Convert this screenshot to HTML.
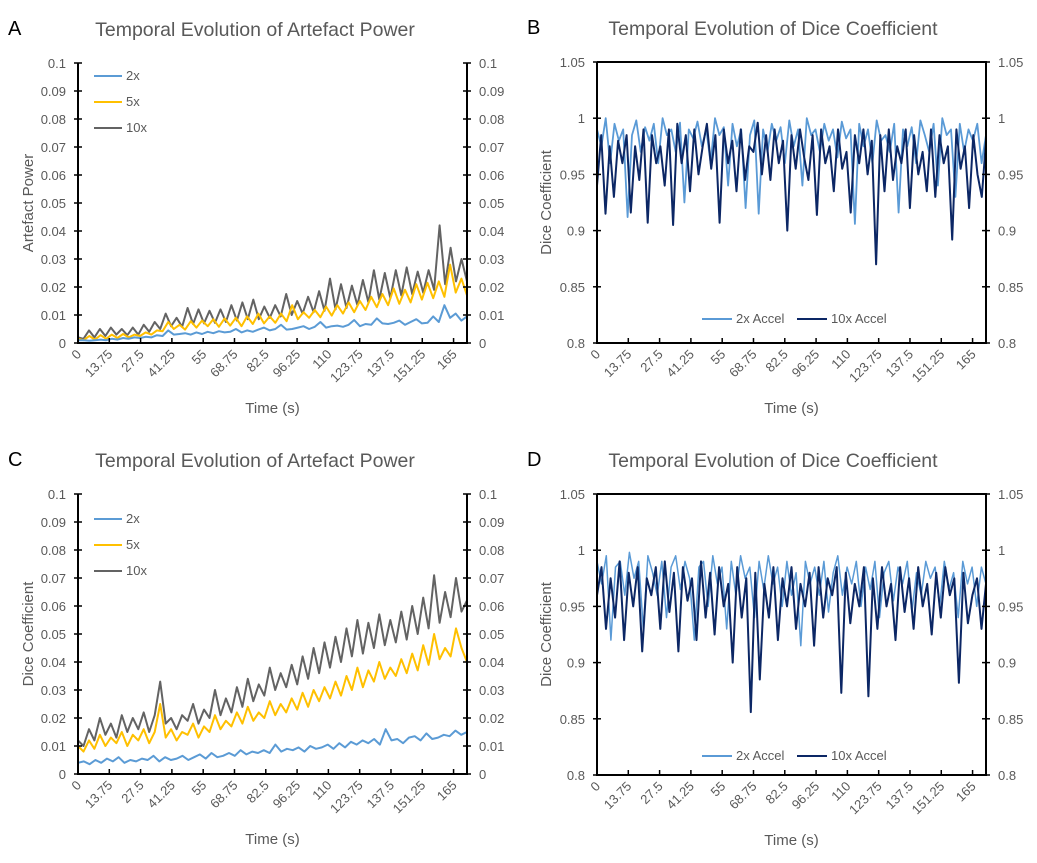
<!DOCTYPE html>
<html><head><meta charset="utf-8"><style>
html,body{margin:0;padding:0;background:#fff;width:1037px;height:863px;overflow:hidden}
svg{display:block;font-family:"Liberation Sans",sans-serif}
</style></head><body>
<svg id="chart" width="1037" height="863" viewBox="0 0 1037 863" xmlns="http://www.w3.org/2000/svg"></svg>
<script>
const xTicks=[0,13.75,27.5,41.25,55,68.75,82.5,96.25,110,123.75,137.5,151.25,165];
const xMax=170.9;
const a2x=[0.001,0.001,0.0008,0.001,0.0012,0.001,0.0015,0.0012,0.0018,0.0015,0.002,0.0018,0.0022,0.002,0.0028,0.0025,0.0045,0.003,0.0032,0.0035,0.003,0.0038,0.0032,0.004,0.0035,0.0042,0.0038,0.004,0.005,0.0038,0.0045,0.004,0.0048,0.0055,0.0045,0.005,0.0065,0.0048,0.005,0.0055,0.006,0.005,0.0058,0.0075,0.0055,0.006,0.0062,0.0058,0.0065,0.0082,0.006,0.0068,0.0065,0.0088,0.007,0.0068,0.0072,0.008,0.0065,0.0075,0.0085,0.007,0.0072,0.0095,0.0075,0.0135,0.009,0.0105,0.008,0.0095];
const a5x=[0.0015,0.001,0.0025,0.0012,0.0028,0.0015,0.003,0.0018,0.0032,0.002,0.003,0.0025,0.0038,0.003,0.0045,0.0042,0.0075,0.005,0.0065,0.0048,0.0078,0.0055,0.008,0.006,0.0085,0.0058,0.0088,0.0062,0.009,0.006,0.0095,0.0068,0.0105,0.007,0.0095,0.0072,0.0105,0.0078,0.0135,0.0085,0.011,0.009,0.0118,0.0092,0.013,0.0098,0.0135,0.0105,0.0145,0.011,0.015,0.0118,0.0165,0.0128,0.0175,0.0135,0.0195,0.014,0.019,0.0145,0.021,0.0155,0.0215,0.016,0.022,0.0165,0.028,0.018,0.023,0.017];
const a10x=[0.002,0.0015,0.0045,0.002,0.005,0.0025,0.0055,0.003,0.005,0.0028,0.0055,0.003,0.0065,0.004,0.0075,0.005,0.0105,0.006,0.009,0.0058,0.0125,0.0068,0.012,0.007,0.0115,0.0072,0.012,0.0075,0.0135,0.008,0.0145,0.0085,0.0155,0.0085,0.013,0.009,0.0135,0.0095,0.0175,0.01,0.015,0.0105,0.0165,0.011,0.0185,0.0115,0.023,0.012,0.021,0.0125,0.0205,0.0135,0.0225,0.0145,0.026,0.0155,0.025,0.016,0.026,0.017,0.027,0.0175,0.0255,0.018,0.026,0.019,0.042,0.021,0.034,0.022,0.03,0.022];
const c2x=[0.004,0.0045,0.0035,0.005,0.004,0.0055,0.0045,0.006,0.004,0.005,0.0045,0.0055,0.005,0.0065,0.0045,0.006,0.005,0.0055,0.0065,0.005,0.006,0.007,0.0055,0.0075,0.006,0.0065,0.0075,0.0065,0.0085,0.007,0.008,0.0075,0.0085,0.0075,0.0105,0.008,0.009,0.0085,0.0095,0.008,0.01,0.009,0.0095,0.0105,0.009,0.011,0.0095,0.0115,0.0105,0.012,0.011,0.0125,0.0105,0.016,0.012,0.0125,0.011,0.013,0.0135,0.012,0.0145,0.0125,0.013,0.014,0.0135,0.0155,0.014,0.015];
const c5x=[0.01,0.008,0.012,0.009,0.014,0.01,0.013,0.011,0.015,0.01,0.014,0.012,0.016,0.011,0.015,0.025,0.013,0.016,0.012,0.015,0.014,0.018,0.013,0.017,0.015,0.021,0.016,0.019,0.017,0.022,0.018,0.024,0.019,0.022,0.02,0.026,0.021,0.025,0.022,0.027,0.023,0.029,0.024,0.03,0.026,0.031,0.027,0.033,0.028,0.035,0.03,0.038,0.031,0.037,0.033,0.04,0.034,0.038,0.035,0.041,0.036,0.043,0.037,0.046,0.039,0.05,0.041,0.045,0.042,0.052,0.045,0.04];
const c10x=[0.012,0.01,0.016,0.012,0.02,0.014,0.018,0.013,0.021,0.015,0.02,0.016,0.022,0.015,0.021,0.033,0.018,0.02,0.016,0.021,0.019,0.025,0.018,0.023,0.02,0.03,0.021,0.027,0.022,0.031,0.024,0.034,0.026,0.032,0.028,0.038,0.03,0.036,0.031,0.039,0.032,0.042,0.034,0.045,0.036,0.047,0.038,0.049,0.04,0.052,0.042,0.055,0.043,0.054,0.045,0.057,0.046,0.055,0.047,0.058,0.048,0.06,0.05,0.063,0.052,0.071,0.054,0.065,0.056,0.07,0.058,0.062];
const b2x=[0.99,0.975,1.0,0.96,0.995,0.98,0.99,0.912,0.985,0.998,0.97,0.992,0.98,0.995,0.96,1.0,0.985,0.99,0.97,0.996,0.925,0.99,0.982,0.997,0.975,0.99,0.96,1.0,0.985,0.992,0.94,0.995,0.975,0.99,0.92,0.985,0.998,0.915,0.99,0.97,0.995,0.98,0.992,0.96,0.998,0.975,0.99,0.94,1.0,0.985,0.99,0.97,0.995,0.98,0.99,0.965,0.997,0.982,0.99,0.906,0.995,0.975,0.99,0.96,0.998,0.98,0.985,0.97,0.995,0.916,0.99,0.975,0.992,0.96,0.998,0.985,0.97,0.995,0.94,1.0,0.985,0.99,0.93,0.995,0.97,0.99,0.98,0.995,0.96,0.985];
const b10x=[0.94,0.985,0.915,0.975,0.93,0.98,0.96,0.985,0.916,0.975,0.945,0.99,0.907,0.985,0.96,0.975,0.94,0.99,0.905,0.995,0.96,0.985,0.935,0.99,0.95,0.975,0.995,0.955,0.985,0.907,0.99,0.96,0.98,0.935,0.99,0.945,0.975,0.97,0.996,0.95,0.985,0.945,0.99,0.96,0.98,0.9,0.985,0.955,0.99,0.965,0.945,0.985,0.914,0.99,0.96,0.975,0.935,0.99,0.955,0.97,0.916,0.985,0.96,0.99,0.95,0.98,0.87,0.985,0.935,0.99,0.945,0.975,0.96,0.99,0.92,0.985,0.95,0.97,0.935,0.99,0.93,0.985,0.96,0.975,0.892,0.99,0.955,0.975,0.92,0.985,0.95,0.93,0.98];
const d2x=[0.99,0.97,0.995,0.92,0.985,0.99,0.96,0.998,0.975,0.99,0.93,0.995,0.98,0.96,0.99,0.94,0.985,0.995,0.965,0.99,0.975,0.92,0.985,0.99,0.95,0.995,0.97,0.985,0.93,0.99,0.96,0.995,0.975,0.985,0.94,0.99,0.965,0.995,0.97,0.985,0.95,0.99,0.96,0.98,0.915,0.99,0.97,0.985,0.96,0.99,0.945,0.98,0.995,0.96,0.985,0.97,0.99,0.95,0.985,0.965,0.99,0.94,0.98,0.99,0.955,0.985,0.97,0.99,0.945,0.98,0.96,0.99,0.975,0.985,0.95,0.99,0.965,0.98,0.94,0.99,0.97,0.985,0.95,0.985,0.97];
const d10x=[0.96,0.985,0.93,0.975,0.94,0.99,0.92,0.98,0.95,0.985,0.91,0.975,0.96,0.985,0.93,0.99,0.945,0.98,0.91,0.985,0.955,0.975,0.92,0.99,0.94,0.98,0.925,0.985,0.95,0.97,0.9,0.985,0.94,0.975,0.856,0.98,0.885,0.97,0.94,0.985,0.92,0.975,0.95,0.985,0.93,0.97,0.95,0.98,0.915,0.985,0.94,0.975,0.96,0.985,0.873,0.98,0.935,0.97,0.95,0.985,0.87,0.975,0.93,0.985,0.95,0.97,0.92,0.985,0.945,0.975,0.93,0.985,0.95,0.97,0.925,0.98,0.94,0.985,0.96,0.975,0.882,0.98,0.935,0.96,0.975,0.93,0.97];
const powerTicks=[0,0.01,0.02,0.03,0.04,0.05,0.06,0.07,0.08,0.09,0.1];
const diceTicks=[0.8,0.85,0.9,0.95,1,1.05];

const NS='http://www.w3.org/2000/svg';
const svg=document.getElementById('chart');
function mk(tag,attrs,parent,text){const e=document.createElementNS(NS,tag);for(const k in attrs)e.setAttribute(k,attrs[k]);if(text!==undefined)e.textContent=text;(parent||svg).appendChild(e);return e;}
const GREY='#595959';

function panel(p){
  const g=mk('g',{});
  
  
  const ymin=p.ticks[0],ymax=p.ticks[p.ticks.length-1];
  const X=v=>p.L+(v/xMax)*(p.R-p.L);
  const Y=v=>p.B-(v-ymin)/(ymax-ymin)*(p.B-p.T);
  const letter=mk('text',{x:p.letterX,y:p.T-28,'font-size':20,fill:'#000'},g,p.id);
  
  
  const title=mk('text',{x:p.titleX,y:p.T-27,'font-size':19.5,fill:GREY,'text-anchor':'middle'},g,p.title);
  
  
  p.series.forEach(s=>{
    const n=s.data.length;
    const pts=s.data.map((v,i)=>X(i*xMax/(n-1)).toFixed(1)+','+Y(v).toFixed(1)).join(' ');
    const pl=mk('polyline',{points:pts,fill:'none',stroke:s.color,'stroke-width':s.w||2,'stroke-linejoin':'round'},g);
    
    
  });
  const ax=mk('path',{d:`M${p.L},${p.T} V${p.B} H${p.R} V${p.T}`+(p.box?` H${p.L}`:''),fill:'none',stroke:'#000','stroke-width':2},g);
  
  
  p.ticks.forEach(t=>{
    const y=Y(t);
    mk('line',{x1:p.L-4,x2:p.L+4,y1:y,y2:y,stroke:'#000','stroke-width':1.5},g);
    mk('line',{x1:p.R-4,x2:p.R+4,y1:y,y2:y,stroke:'#000','stroke-width':1.5},g);
    const lt=mk('text',{x:p.L-12,y:y+5,'font-size':13,fill:GREY,'text-anchor':'end'},g,String(t));
    
    
    const rt=mk('text',{x:p.R+12,y:y+5,'font-size':13,fill:GREY},g,String(t));
    
    
  });
  xTicks.forEach(t=>{
    const x=X(t);
    mk('line',{x1:x,x2:x,y1:p.B,y2:p.B-5,stroke:'#000','stroke-width':1.5},g);
    const xt=mk('text',{x:x+4,y:p.B+12,'font-size':13,fill:GREY,'text-anchor':'end',transform:`rotate(-45 ${x+4} ${p.B+12})`},g,String(t));
    
    
  });
  const xtl=mk('text',{x:(p.L+p.R)/2,y:p.B+70,'font-size':15,fill:GREY,'text-anchor':'middle'},g,'Time (s)');
  
  
  const cy=(p.T+p.B)/2;
  const ytl=mk('text',{x:p.ytX,y:cy,'font-size':15,fill:GREY,'text-anchor':'middle',transform:`rotate(-90 ${p.ytX} ${cy})`},g,p.ytitle);
  
  
  p.legend.forEach(l=>{
    const lg=mk('g',{},g);
    
    
    mk('line',{x1:l.x,x2:l.x+l.len,y1:l.y,y2:l.y,stroke:l.color,'stroke-width':2},lg);
    mk('text',{x:l.x+l.len+4,y:l.y+4,'font-size':13,fill:GREY},lg,l.label);
  });
}
const C2='#5b9bd5',C5='#ffc000',C10='#636363',NAVY='#0c2765',LB='#5a9ad6';
panel({id:'A',L:78,R:467,T:63,B:343,ticks:powerTicks,box:false,letterX:8,ytX:33,titleX:255,title:'Temporal Evolution of Artefact Power',ytitle:'Artefact Power',
  series:[{name:'10x',data:a10x,color:C10},{name:'5x',data:a5x,color:C5},{name:'2x',data:a2x,color:C2}],
  legend:[{x:94,y:76,len:28,color:C2,label:'2x'},{x:94,y:102,len:28,color:C5,label:'5x'},{x:94,y:128,len:28,color:C10,label:'10x'}]});
panel({id:'B',L:597,R:986,T:62,B:343,ticks:diceTicks,box:true,letterX:527,ytX:551,titleX:773,title:'Temporal Evolution of Dice Coefficient',ytitle:'Dice Coefficient',
  series:[{name:'2x Accel',data:b2x,color:LB,w:1.8},{name:'10x Accel',data:b10x,color:NAVY,w:2}],
  legend:[{x:702,y:319,len:30,color:LB,label:'2x Accel'},{x:797,y:319,len:30,color:NAVY,label:'10x Accel'}]});
panel({id:'C',L:78,R:467,T:494,B:774,ticks:powerTicks,box:false,letterX:8,ytX:33,titleX:255,title:'Temporal Evolution of Artefact Power',ytitle:'Dice Coefficient',
  series:[{name:'10x',data:c10x,color:C10},{name:'5x',data:c5x,color:C5},{name:'2x',data:c2x,color:C2}],
  legend:[{x:94,y:519,len:28,color:C2,label:'2x'},{x:94,y:545,len:28,color:C5,label:'5x'},{x:94,y:571,len:28,color:C10,label:'10x'}]});
panel({id:'D',L:597,R:986,T:494,B:775,ticks:diceTicks,box:true,letterX:527,ytX:551,titleX:773,title:'Temporal Evolution of Dice Coefficient',ytitle:'Dice Coefficient',
  series:[{name:'2x Accel',data:d2x,color:LB,w:1.5},{name:'10x Accel',data:d10x,color:NAVY,w:2}],
  legend:[{x:702,y:756,len:30,color:LB,label:'2x Accel'},{x:797,y:756,len:30,color:NAVY,label:'10x Accel'}]});
</script>
</body></html>
